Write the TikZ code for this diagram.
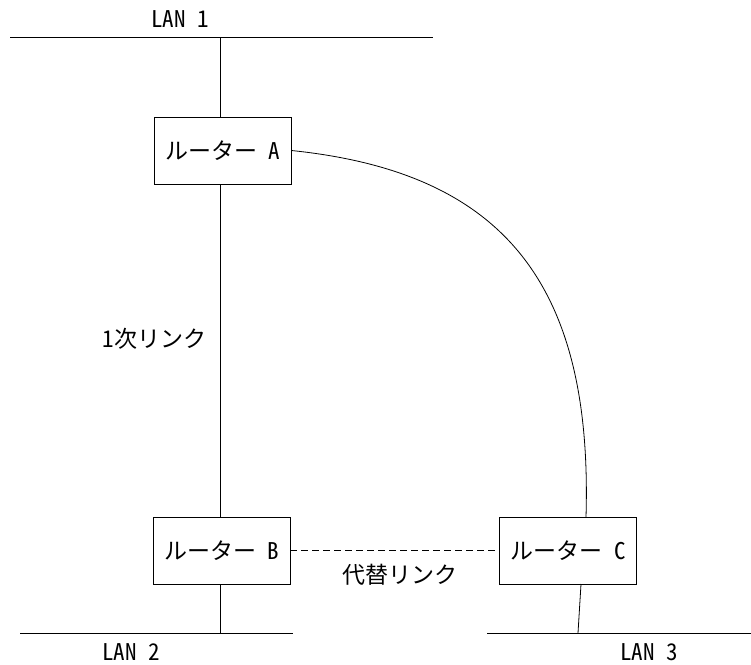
\documentclass[tikz,border=0pt]{standalone}
\usepackage{fontspec}
\setmainfont{Noto Sans CJK JP}[RawFeature=+hwid]
\begin{document}
\begin{tikzpicture}[x=1pt,y=-1pt,line width=0.8pt,
  font=\fontsize{23}{27}\selectfont,
  router/.style={draw,minimum width=137pt,minimum height=67pt,inner sep=0pt},
  label/.style={inner sep=0pt}]
  \useasboundingbox (0,0) rectangle (751,664);
  % routers
  \node[router] (A) at (222.5,150.5) {ルーター\hspace{0.5em}A};
  \node[router] (B) at (221.5,550.5) {ルーター\hspace{0.5em}B};
  \node[router] (C) at (568,550.5) {ルーター\hspace{0.5em}C};
  % lans
  \coordinate (lan1w) at (10,37);
  \coordinate (lan1e) at (433,37);
  \coordinate (lan2w) at (20,633);
  \coordinate (lan2e) at (293,633);
  \coordinate (lan3w) at (487,633);
  \coordinate (lan3e) at (751,633);
  \coordinate (tapA) at (220,37);
  \coordinate (tapB) at (220,633);
  \coordinate (tapC) at (578,633);
  \coordinate (cin) at (586,517);
  \coordinate (cout) at (581,584);
  \draw (lan1w) -- (lan1e);
  \draw (lan2w) -- (lan2e);
  \draw (lan3w) -- (lan3e);
  \node[label] (n1) at (180,19) {LAN\hspace{0.5em}1};
  \node[label] (n2) at (131,652) {LAN\hspace{0.5em}2};
  \node[label] (n3) at (649,652) {LAN\hspace{0.5em}3};
  % links
  \draw (tapA) -- (tapA |- A.north);
  \draw (tapA |- A.south) -- (tapA |- B.north);
  \draw (tapB |- B.south) -- (tapB);
  \draw (cout) -- (tapC);
  \draw (A.east) .. controls (500,172) and (593,280) .. (cin);
  \draw[line width=1.3pt,dash pattern=on 7pt off 4pt] (B.east) -- (C.west);
  \node[label] (prim) at (154.5,339) {1次リンク};
  \node[label] (alt) at (400,575) {代替リンク};
\end{tikzpicture}
\end{document}
